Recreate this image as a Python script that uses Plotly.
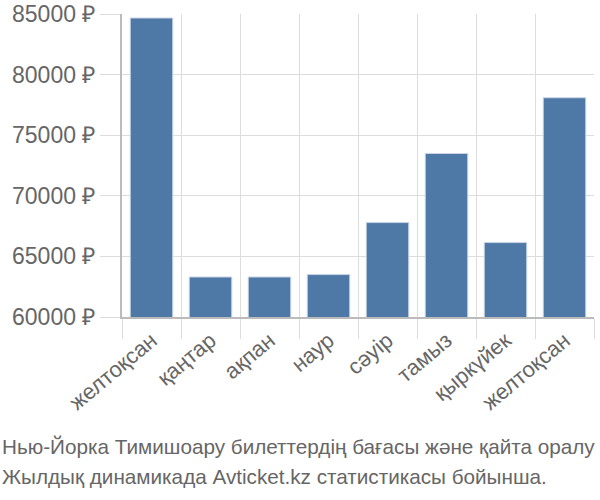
import plotly.graph_objects as go

categories = ["желтоқсан", "қаңтар", "ақпан", "наур", "сәуір", "тамыз", "қыркүйек", "желтоқсан"]
prices = [84670, 63300, 63300, 63500, 67790, 73490, 66140, 78090]
y_ticks = [60000, 65000, 70000, 75000, 80000, 85000]
caption_lines = ["Нью-Йорка Тимишоару билеттердің бағасы және қайта оралу",
                 "Жылдық динамикада Avticket.kz статистикасы бойынша."]

idx = [str(i) for i in range(len(categories))]

fig = go.Figure(go.Bar(
    x=idx, y=prices,
    marker=dict(color="#4e78a6", line=dict(color="#c8d4e4", width=1)),
))

grid = "#dddddd"
caption_font = dict(family="Liberation Sans, Arial, sans-serif", size=20.7, color="#666666")
fig.update_layout(
    width=600, height=500,
    margin=dict(l=122, r=6, t=14, b=183),
    paper_bgcolor="white", plot_bgcolor="white",
    bargap=0.28,
    showlegend=False,
    font=dict(family="Liberation Sans, Arial, sans-serif", color="#666666"),
    xaxis=dict(
        type="category", automargin=False,
        tickmode="array", tickvals=idx, ticktext=categories,
        tickson="boundaries",
        ticks="outside", ticklen=20, tickcolor=grid, tickwidth=1,
        showgrid=True, gridcolor=grid, gridwidth=1,
        showline=True, linecolor="#bbbbbb", linewidth=2,
        tickangle=-40, tickfont=dict(size=22, color="#666666"),
        range=[-0.5, len(categories) - 0.5],
    ),
    yaxis=dict(
        range=[60000, 85000], automargin=False,
        tickmode="array", tickvals=y_ticks,
        ticktext=[f"{v} ₽" for v in y_ticks],
        ticks="outside", ticklen=20, tickcolor=grid, tickwidth=1,
        showgrid=True, gridcolor=grid, gridwidth=1,
        showline=True, linecolor="#bbbbbb", linewidth=2,
        tickfont=dict(size=23, color="#666666"),
        zeroline=False,
    ),
    annotations=[
        dict(text=caption_lines[0], xref="paper", yref="paper", x=0, y=0,
             xanchor="left", yanchor="top", xshift=-122, yshift=-116,
             showarrow=False, align="left", font=caption_font),
        dict(text=caption_lines[1], xref="paper", yref="paper", x=0, y=0,
             xanchor="left", yanchor="top", xshift=-122, yshift=-146,
             showarrow=False, align="left", font=caption_font),
    ],
)

fig.write_html("out.html")
